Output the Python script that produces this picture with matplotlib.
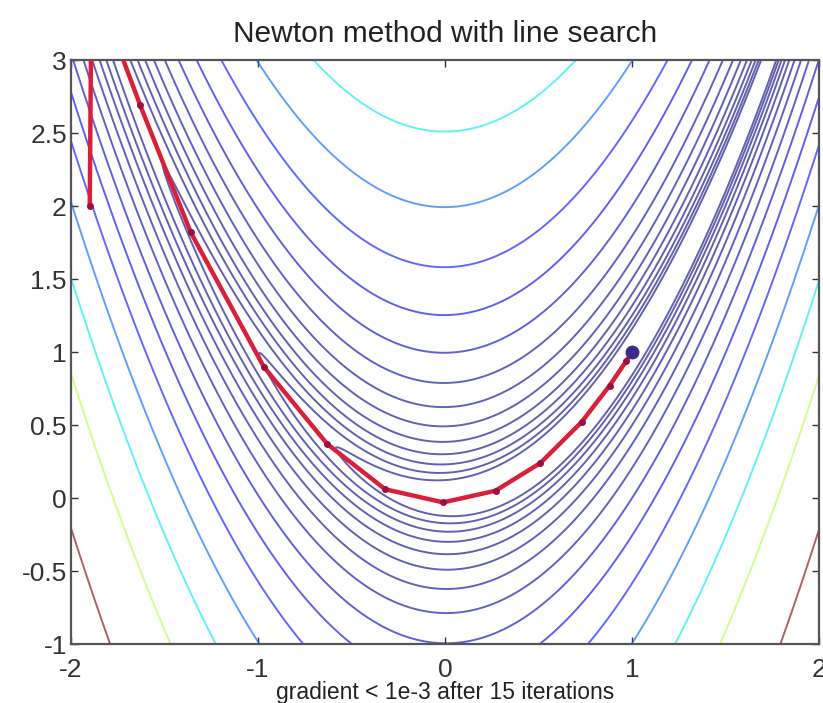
import numpy as np
import matplotlib
matplotlib.use("Agg")
import matplotlib.pyplot as plt

# Rosenbrock-type surface contour levels
contour_levels = [2.51, 3.98, 6.31, 10.0, 15.8, 25.1, 39.8, 63.1,
                  100.0, 158.0, 251.0, 398.0, 631.0, 1000.0, 1778.0]

# Newton iterates (path)
path_x = [-1.90, -1.89, -1.63, -1.36, -0.97, -0.63, -0.32, -0.01, 0.27, 0.51, 0.73, 0.88, 0.97, 1.00]
path_y = [2.00, 3.58, 2.69, 1.82, 0.90, 0.37, 0.06, -0.03, 0.05, 0.24, 0.52, 0.77, 0.94, 1.00]
minimum_x = [1.0]
minimum_y = [1.0]

x_ticks = [-2, -1, 0, 1, 2]
y_ticks = [-1, -0.5, 0, 0.5, 1, 1.5, 2, 2.5, 3]
y_tick_labels = ["-1", "-0.5", "0", "0.5", "1", "1.5", "2", "2.5", "3"]
x_tick_labels = ["-2", "-1", "0", "1", "2"]

plt.rcParams['font.family'] = ['Liberation Sans', 'DejaVu Sans']
plt.rcParams['axes.unicode_minus'] = False

fig = plt.figure(figsize=(8.23, 7.03), dpi=100)
ax = fig.add_axes([0.0863, 0.0839, 0.9089, 0.8307])

gx = np.linspace(-2, 2, 700)
gy = np.linspace(-1, 3, 700)
X, Y = np.meshgrid(gx, gy)
Z = (1 - X) ** 2 + 100 * (Y - X ** 2) ** 2

norm = matplotlib.colors.Normalize(vmin=min(contour_levels), vmax=max(contour_levels))
ax.contour(X, Y, Z, levels=contour_levels, cmap='jet', norm=norm, linewidths=1.4, alpha=0.62)

ax.plot(path_x, path_y, '-', color='#d8203a', lw=3.2, zorder=5, solid_capstyle='round')
ax.plot(path_x, path_y, '.', color='#9a1040', ms=8, zorder=6)
ax.plot(minimum_x, minimum_y, 'o', color='#3b2a8c', ms=9, zorder=7)

ax.set_xlim(-2, 2)
ax.set_ylim(-1, 3)
ax.set_xticks(x_ticks)
ax.set_xticklabels(x_tick_labels)
ax.set_yticks(y_ticks)
ax.set_yticklabels(y_tick_labels)
ax.tick_params(direction='in', length=5, width=1, top=True, right=True,
               labelsize=19, colors='#333333', pad=3)
ax.tick_params(axis='x', pad=10)
for s in ax.spines.values():
    s.set_color('#555555')
    s.set_linewidth(1.6)

ax.set_title("Newton method with line search", fontsize=21.5, color='#222222', pad=13)
ax.set_xlabel("gradient < 1e-3 after 15 iterations", fontsize=16.5, color='#222222', labelpad=-1)

fig.savefig("out.png", dpi=100)
